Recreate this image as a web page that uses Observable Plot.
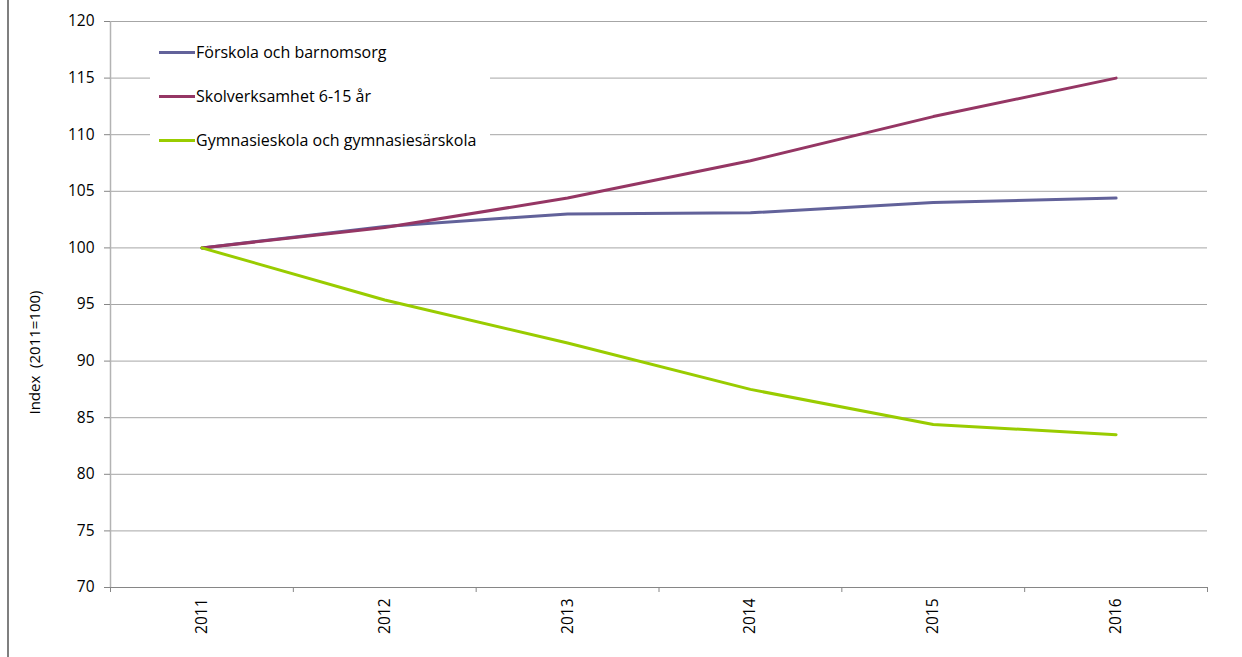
<!DOCTYPE html>
<html>
<head>
<meta charset="utf-8">
<script src="https://cdn.jsdelivr.net/npm/d3@7"></script>
<script src="https://cdn.jsdelivr.net/npm/@observablehq/plot@0.6"></script>
<style>
  html, body { margin: 0; padding: 0; background: #fff; overflow: hidden; }
  #wrap { position: relative; width: 1242px; height: 657px; font-family: "Open Sans", sans-serif; }
  #border { position: absolute; left: 7px; top: 0; width: 2px; height: 657px; background: #7f7f7f; }
  #legend { position: absolute; left: 150px; top: 33px; width: 340px; height: 128px; background: #fff; }
  .item { position: absolute; left: 9px; height: 22px; display: flex; align-items: center; }
  .swatch { width: 36px; height: 3px; }
  .label { margin-left: 1px; font-size: 16px; color: #000; white-space: nowrap; }
  svg { position: absolute; left: 0; top: 0; }
</style>
</head>
<body>
<div id="wrap"><div id="border"></div></div>
<script>
const years = [2011, 2012, 2013, 2014, 2015, 2016];
const seriesNames = ["Förskola och barnomsorg", "Skolverksamhet 6-15 år", "Gymnasieskola och gymnasiesärskola"];
const forskola = [100, 101.9, 103.0, 103.1, 104.0, 104.4];
const skolverksamhet = [100, 101.8, 104.4, 107.7, 111.6, 115.0];
const gymnasieskola = [100, 95.4, 91.6, 87.5, 84.4, 83.5];
const seriesColors = ["#62629a", "#953664", "#99cc00"];
const yTicks = [70, 75, 80, 85, 90, 95, 100, 105, 110, 115, 120];
const yLabel = "Index\u00a0 (2011=100)";

const seriesValues = [forskola, skolverksamhet, gymnasieskola];
const data = seriesNames.flatMap((name, i) =>
  years.map((year, j) => ({ name, year, value: seriesValues[i][j] }))
);
const boundaries = [years[0] - 0.5, ...years.map(y => y + 0.5)];

const chart = Plot.plot({
  width: 1242,
  height: 657,
  marginLeft: 110,
  marginRight: 35,
  marginTop: 21,
  marginBottom: 70,
  style: { fontFamily: "Open Sans", fontSize: "15px", color: "#000", background: "transparent" },
  x: { domain: [years[0] - 0.5, years[years.length - 1] + 0.5] },
  y: { domain: [70, 120] },
  color: { domain: seriesNames, range: seriesColors },
  marks: [
    Plot.gridY({ ticks: yTicks, stroke: "#a6a6a6", strokeOpacity: 1 }),
    Plot.ruleX([boundaries[0]], { stroke: "#b3b3b3", strokeWidth: 1.5 }),
    Plot.ruleY([70], { stroke: "#868686" }),
    Plot.axisY({ ticks: yTicks, tickSize: 6, tickPadding: 10, label: null, stroke: "#868686", fontSize: 15.5 }),
    Plot.axisX({ ticks: boundaries, tickSize: 5, tickFormat: () => "", label: null, stroke: "#868686" }),
    Plot.axisX({ ticks: years, tickSize: 0, tickRotate: -90, tickPadding: 11, tickFormat: d => String(d), label: null, fontSize: 15.5 }),
    Plot.line(data, { x: "year", y: "value", stroke: "name", strokeWidth: 3 }),
    Plot.text([yLabel], { text: d => d, frameAnchor: "left", textAnchor: "middle", rotate: -90, dx: -75, dy: 48, fontSize: 15, fill: "#000" })
  ]
});

const wrap = document.getElementById("wrap");
wrap.appendChild(chart);

const legend = document.createElement("div");
legend.id = "legend";
seriesNames.forEach((name, i) => {
  const item = document.createElement("div");
  item.className = "item";
  item.style.top = (52 - 33 - 11 + i * 44) + "px";
  const sw = document.createElement("div");
  sw.className = "swatch";
  sw.style.background = seriesColors[i];
  const lb = document.createElement("span");
  lb.className = "label";
  lb.textContent = name;
  item.appendChild(sw);
  item.appendChild(lb);
  legend.appendChild(item);
});
wrap.appendChild(legend);
</script>
</body>
</html>
